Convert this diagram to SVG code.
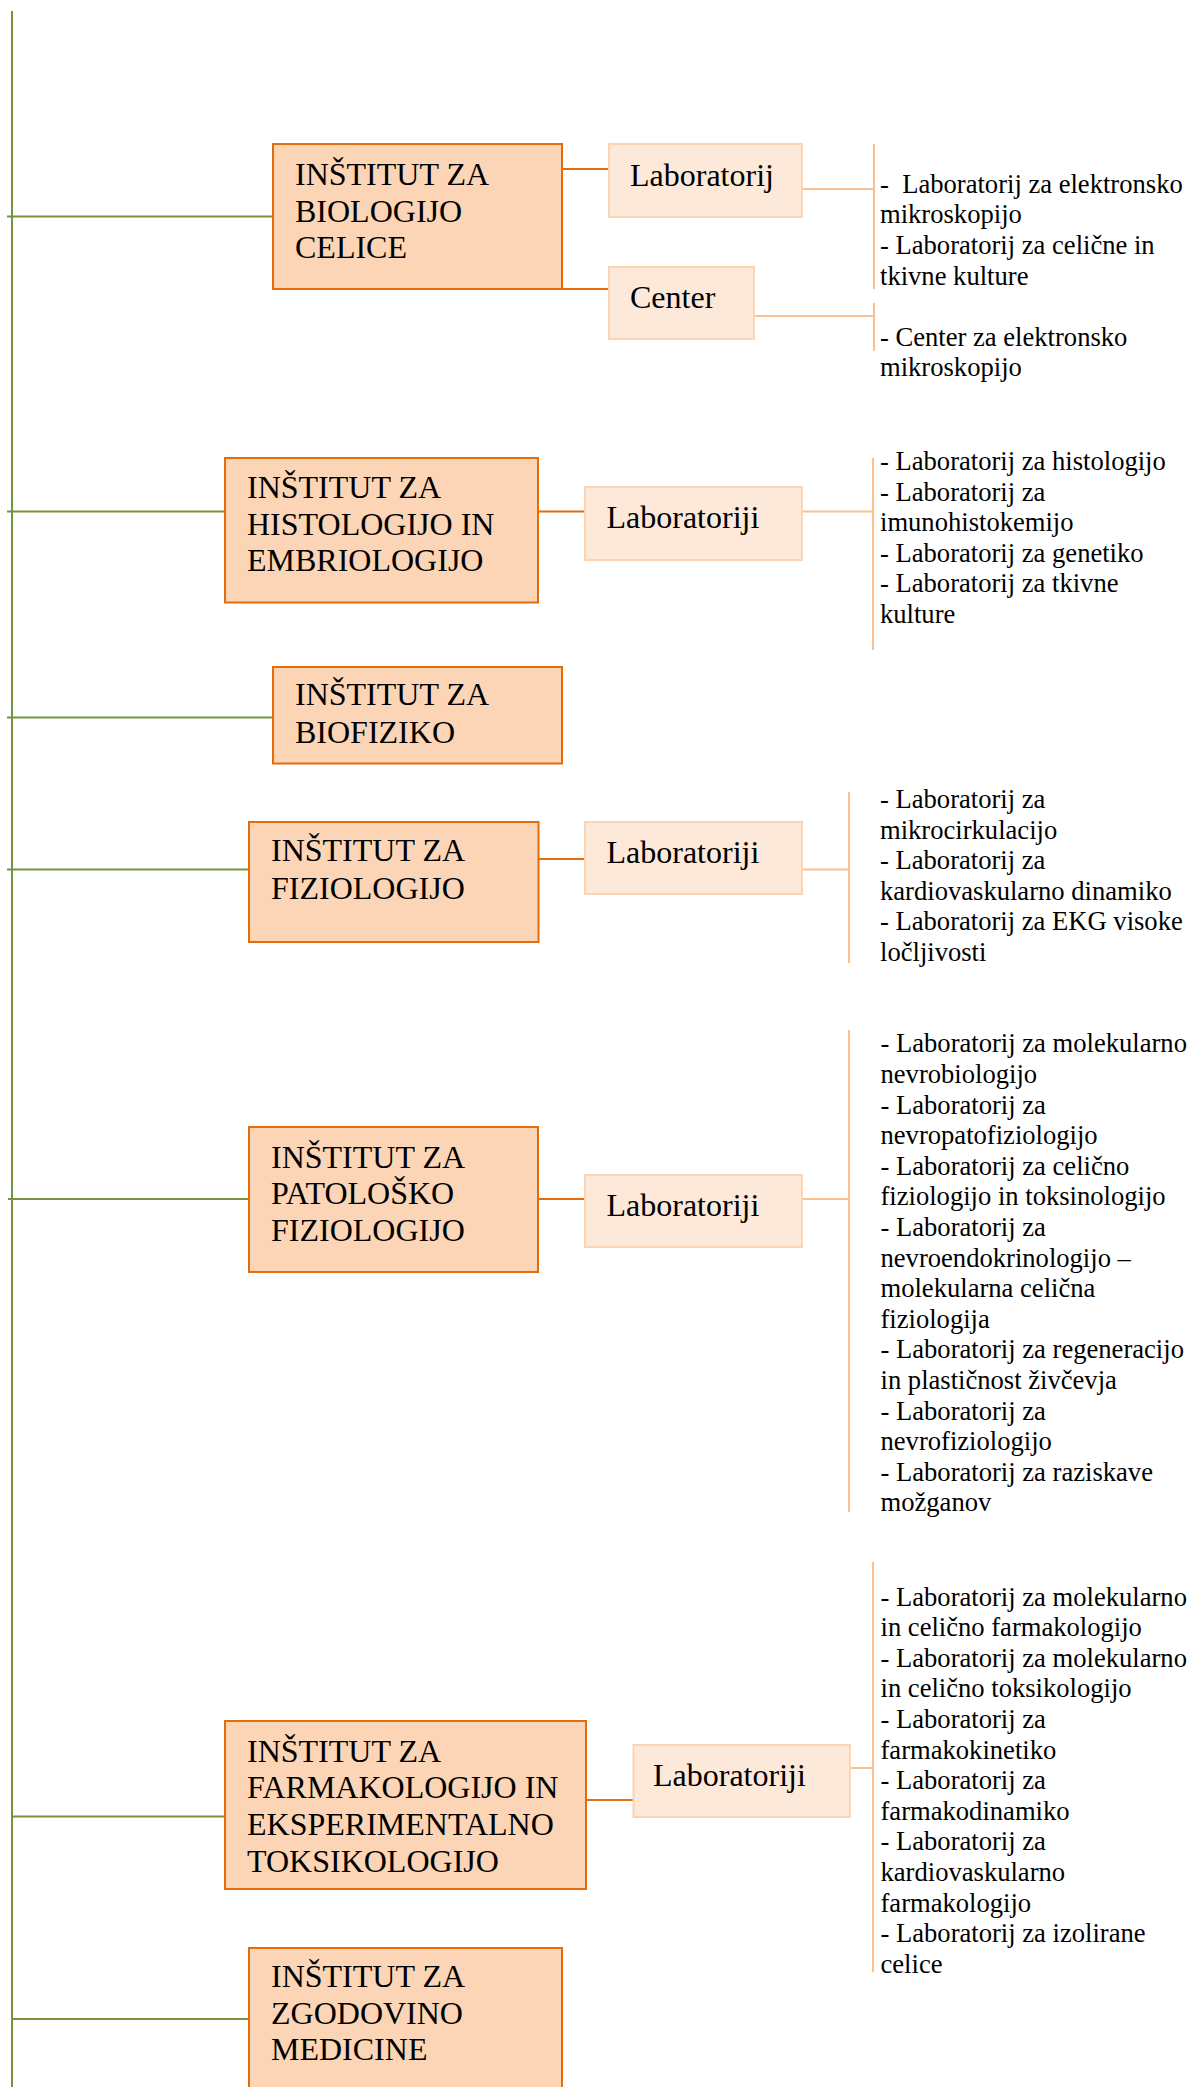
<svg xmlns="http://www.w3.org/2000/svg" width="1200" height="2087" viewBox="0 0 1200 2087">
<style>
.inst{fill:#FBD5B5;stroke:#E46C0A;stroke-width:2}
.sub{fill:#FDE9D9;stroke:#FBD4B4;stroke-width:2}
.t{font-family:"Liberation Serif","Times New Roman",serif;fill:#000}
.big{font-size:32px}
.sm{font-size:26.6px;white-space:pre}
.g{stroke:#77933C;stroke-width:2;fill:none}
.o{stroke:#E46C0A;stroke-width:2;fill:none}
.l{stroke:#FAC090;stroke-width:2;fill:none}
</style>
<rect width="1200" height="2087" fill="#fff"/>
<g id="connectors">
<line class="g" x1="12" y1="11" x2="12" y2="2087"/>
<line class="g" x1="7" y1="216.5" x2="273" y2="216.5"/>
<line class="g" x1="7" y1="511.5" x2="225" y2="511.5"/>
<line class="g" x1="7" y1="717.5" x2="273" y2="717.5"/>
<line class="g" x1="7" y1="869.5" x2="249" y2="869.5"/>
<line class="g" x1="8" y1="1199" x2="249" y2="1199"/>
<line class="g" x1="11" y1="1816.5" x2="225" y2="1816.5"/>
<line class="g" x1="12" y1="2019" x2="249" y2="2019"/>
<line class="o" x1="562" y1="169" x2="609" y2="169"/>
<line class="o" x1="562" y1="289" x2="609" y2="289"/>
<line class="o" x1="538" y1="511.5" x2="585" y2="511.5"/>
<line class="o" x1="538" y1="859" x2="585" y2="859"/>
<line class="o" x1="538" y1="1199" x2="585" y2="1199"/>
<line class="o" x1="586" y1="1800" x2="633" y2="1800"/>
<line class="l" x1="802" y1="189" x2="874" y2="189"/>
<line class="l" x1="874" y1="144" x2="874" y2="289"/>
<line class="l" x1="754" y1="316" x2="874" y2="316"/>
<line class="l" x1="874" y1="303" x2="874" y2="351"/>
<line class="l" x1="802" y1="511.5" x2="873" y2="511.5"/>
<line class="l" x1="873" y1="458" x2="873" y2="650"/>
<line class="l" x1="802" y1="869.5" x2="849" y2="869.5"/>
<line class="l" x1="849" y1="792" x2="849" y2="963"/>
<line class="l" x1="802" y1="1199" x2="849" y2="1199"/>
<line class="l" x1="849" y1="1030" x2="849" y2="1512"/>
<line class="l" x1="850" y1="1768" x2="873" y2="1768"/>
<line class="l" x1="873" y1="1562" x2="873" y2="1972"/>
</g>
<g id="inst-biologija">
<rect class="inst" x="273" y="144" width="289" height="145"/>
<text class="t big" x="295" y="185">INŠTITUT ZA</text>
<text class="t big" x="295" y="221.7">BIOLOGIJO</text>
<text class="t big" x="295" y="258.4">CELICE</text>
</g>
<g id="lab-biologija">
<rect class="sub" x="609" y="144" width="193" height="73"/>
<text class="t big" x="630" y="185.7">Laboratorij</text>
</g>
<g id="center-biologija">
<rect class="sub" x="609" y="267" width="145" height="72"/>
<text class="t big" x="630" y="307.5">Center</text>
</g>
<g id="list-biologija-lab">
<text class="t sm" x="880" y="192.7">-  Laboratorij za elektronsko</text>
<text class="t sm" x="880" y="223.3">mikroskopijo</text>
<text class="t sm" x="880" y="253.9">- Laboratorij za celične in</text>
<text class="t sm" x="880" y="284.5">tkivne kulture</text>
</g>
<g id="list-biologija-center">
<text class="t sm" x="880" y="345.5">- Center za elektronsko</text>
<text class="t sm" x="880" y="376.1">mikroskopijo</text>
</g>
<g id="inst-histologija">
<rect class="inst" x="225" y="458" width="313" height="144.5"/>
<text class="t big" x="247" y="498">INŠTITUT ZA</text>
<text class="t big" x="247" y="534.7">HISTOLOGIJO IN</text>
<text class="t big" x="247" y="571.4">EMBRIOLOGIJO</text>
</g>
<g id="lab-histologija">
<rect class="sub" x="585" y="487" width="217" height="73"/>
<text class="t big" x="606.5" y="528">Laboratoriji</text>
</g>
<g id="list-histologija">
<text class="t sm" x="880" y="470">- Laboratorij za histologijo</text>
<text class="t sm" x="880" y="500.6">- Laboratorij za</text>
<text class="t sm" x="880" y="531.2">imunohistokemijo</text>
<text class="t sm" x="880" y="561.8">- Laboratorij za genetiko</text>
<text class="t sm" x="880" y="592.4">- Laboratorij za tkivne</text>
<text class="t sm" x="880" y="623">kulture</text>
</g>
<g id="inst-biofizika">
<rect class="inst" x="273" y="667" width="289" height="96.5"/>
<text class="t big" x="295" y="705">INŠTITUT ZA</text>
<text class="t big" x="295" y="743.3">BIOFIZIKO</text>
</g>
<g id="inst-fiziologija">
<rect class="inst" x="249" y="822" width="289.5" height="120"/>
<text class="t big" x="271" y="860.5">INŠTITUT ZA</text>
<text class="t big" x="271" y="898.5">FIZIOLOGIJO</text>
</g>
<g id="lab-fiziologija">
<rect class="sub" x="585" y="822" width="217" height="72"/>
<text class="t big" x="606.5" y="862.7">Laboratoriji</text>
</g>
<g id="list-fiziologija">
<text class="t sm" x="880" y="808">- Laboratorij za</text>
<text class="t sm" x="880" y="838.6">mikrocirkulacijo</text>
<text class="t sm" x="880" y="869.2">- Laboratorij za</text>
<text class="t sm" x="880" y="899.8">kardiovaskularno dinamiko</text>
<text class="t sm" x="880" y="930.4">- Laboratorij za EKG visoke</text>
<text class="t sm" x="880" y="961">ločljivosti</text>
</g>
<g id="inst-patoloska">
<rect class="inst" x="249" y="1127" width="289" height="145"/>
<text class="t big" x="271" y="1167.5">INŠTITUT ZA</text>
<text class="t big" x="271" y="1204.2">PATOLOŠKO</text>
<text class="t big" x="271" y="1240.9">FIZIOLOGIJO</text>
</g>
<g id="lab-patoloska">
<rect class="sub" x="585" y="1175" width="217" height="72"/>
<text class="t big" x="606.5" y="1215.5">Laboratoriji</text>
</g>
<g id="list-patoloska">
<text class="t sm" x="880.5" y="1052.3">- Laboratorij za molekularno</text>
<text class="t sm" x="880.5" y="1082.9">nevrobiologijo</text>
<text class="t sm" x="880.5" y="1113.5">- Laboratorij za</text>
<text class="t sm" x="880.5" y="1144.1">nevropatofiziologijo</text>
<text class="t sm" x="880.5" y="1174.7">- Laboratorij za celično</text>
<text class="t sm" x="880.5" y="1205.3">fiziologijo in toksinologijo</text>
<text class="t sm" x="880.5" y="1235.9">- Laboratorij za</text>
<text class="t sm" x="880.5" y="1266.5">nevroendokrinologijo –</text>
<text class="t sm" x="880.5" y="1297.1">molekularna celična</text>
<text class="t sm" x="880.5" y="1327.7">fiziologija</text>
<text class="t sm" x="880.5" y="1358.3">- Laboratorij za regeneracijo</text>
<text class="t sm" x="880.5" y="1388.9">in plastičnost živčevja</text>
<text class="t sm" x="880.5" y="1419.5">- Laboratorij za</text>
<text class="t sm" x="880.5" y="1450.1">nevrofiziologijo</text>
<text class="t sm" x="880.5" y="1480.7">- Laboratorij za raziskave</text>
<text class="t sm" x="880.5" y="1511.3">možganov</text>
</g>
<g id="inst-farmakologija">
<rect class="inst" x="225" y="1721" width="361" height="168"/>
<text class="t big" x="247" y="1761.7">INŠTITUT ZA</text>
<text class="t big" x="247" y="1798.4">FARMAKOLOGIJO IN</text>
<text class="t big" x="247" y="1835.1">EKSPERIMENTALNO</text>
<text class="t big" x="247" y="1871.8">TOKSIKOLOGIJO</text>
</g>
<g id="lab-farmakologija">
<rect class="sub" x="633.5" y="1745" width="216.5" height="72"/>
<text class="t big" x="653" y="1786">Laboratoriji</text>
</g>
<g id="list-farmakologija">
<text class="t sm" x="880.5" y="1605.5">- Laboratorij za molekularno</text>
<text class="t sm" x="880.5" y="1636.1">in celično farmakologijo</text>
<text class="t sm" x="880.5" y="1666.7">- Laboratorij za molekularno</text>
<text class="t sm" x="880.5" y="1697.3">in celično toksikologijo</text>
<text class="t sm" x="880.5" y="1727.9">- Laboratorij za</text>
<text class="t sm" x="880.5" y="1758.5">farmakokinetiko</text>
<text class="t sm" x="880.5" y="1789.1">- Laboratorij za</text>
<text class="t sm" x="880.5" y="1819.7">farmakodinamiko</text>
<text class="t sm" x="880.5" y="1850.3">- Laboratorij za</text>
<text class="t sm" x="880.5" y="1880.9">kardiovaskularno</text>
<text class="t sm" x="880.5" y="1911.5">farmakologijo</text>
<text class="t sm" x="880.5" y="1942.1">- Laboratorij za izolirane</text>
<text class="t sm" x="880.5" y="1972.7">celice</text>
</g>
<g id="inst-zgodovina">
<rect class="inst" x="249" y="1948" width="313" height="160"/>
<text class="t big" x="271" y="1987">INŠTITUT ZA</text>
<text class="t big" x="271" y="2023.7">ZGODOVINO</text>
<text class="t big" x="271" y="2060.4">MEDICINE</text>
</g>
</svg>
